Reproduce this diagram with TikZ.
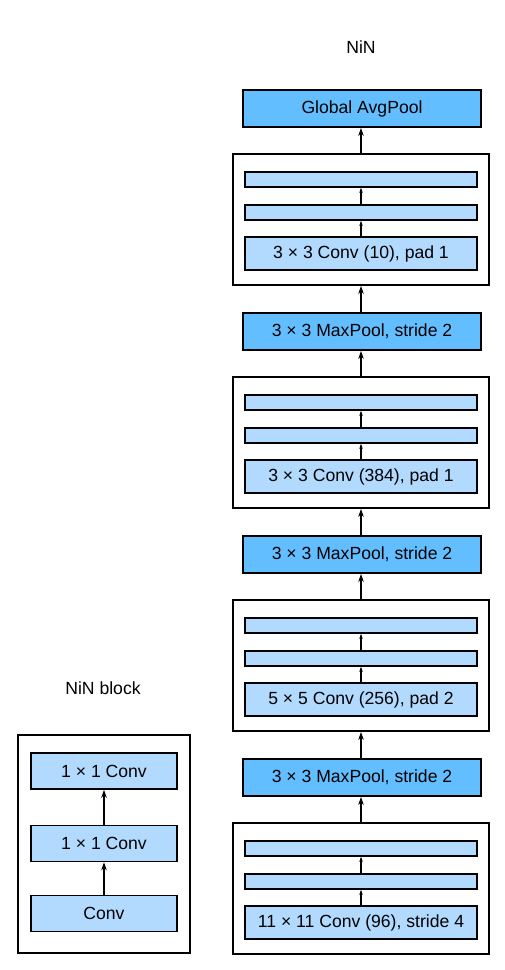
\documentclass[tikz,border=0pt]{standalone}
\usepackage{fontspec}
\setmainfont{Liberation Sans}
\usetikzlibrary{arrows.meta}
\definecolor{poolblue}{RGB}{99,190,255}
\definecolor{convblue}{RGB}{178,218,255}
\tikzset{
  poolbox/.style={draw=black, line width=1.8pt, fill=poolblue, minimum width=238pt, minimum height=37pt, inner sep=0pt, font=\fontsize{17.6}{20}\selectfont},
  convbox/.style={draw=black, line width=1.6pt, fill=convblue, minimum width=232pt, minimum height=33pt, inner sep=0pt, font=\fontsize{17.6}{20}\selectfont},
  barbox/.style={draw=black, line width=1.6pt, fill=convblue, minimum width=232pt, minimum height=15pt, inner sep=0pt},
  outerbox/.style={draw=black, line width=1.8pt, fill=white, minimum width=256pt, minimum height=131pt, inner sep=0pt},
  smallbox/.style={draw=black, line width=1.6pt, fill=convblue, minimum width=146pt, minimum height=36pt, inner sep=0pt, font=\fontsize{17.6}{20}\selectfont},
  bigarrow/.style={line width=1.6pt, -{Stealth[length=8pt,width=5.5pt]}},
  thinarrow/.style={line width=1.4pt, -{Stealth[length=5pt,width=3.5pt]}},
  titletext/.style={font=\fontsize{17.6}{20}\selectfont},
}
\begin{document}
\begin{tikzpicture}[x=1pt,y=-1pt]
\useasboundingbox (0,0) rectangle (504,970);
% titles
\node[titletext] (tnin) at (361,47) {NiN};
\node[titletext] (tblock) at (103,688) {NiN block};
% right column
\node[poolbox] (avg) at (362,108.5) {Global AvgPool};
\foreach \i/\T/\lab in {1/154/{3 × 3 Conv (10), pad 1},2/377/{3 × 3 Conv (384), pad 1},3/600/{5 × 5 Conv (256), pad 2},4/823/{11 × 11 Conv (96), stride 4}}{
  \node[outerbox] (o\i) at (361,\T+65.5) {};
  \node[barbox] (ba\i) at (361,\T+25.5) {};
  \node[barbox] (bb\i) at (361,\T+58.5) {};
  \node[convbox] (c\i) at (361,\T+99.5) {\lab};
  \draw[thinarrow] (c\i.north) -- (bb\i.south);
  \draw[thinarrow] (bb\i.north) -- (ba\i.south);
}
\foreach \i/\T in {1/377,2/600,3/823}{
  \node[poolbox] (p\i) at (362,\T-45.5) {3 × 3 MaxPool, stride 2};
}
\draw[bigarrow] (o1.north) -- (o1.north |- avg.south);
\draw[bigarrow] (o2.north) -- (o2.north |- p1.south);
\draw[bigarrow] (o2.north |- p1.north) -- (o1.south);
\draw[bigarrow] (o3.north) -- (o3.north |- p2.south);
\draw[bigarrow] (o3.north |- p2.north) -- (o2.south);
\draw[bigarrow] (o4.north) -- (o4.north |- p3.south);
\draw[bigarrow] (o4.north |- p3.north) -- (o3.south);
% left block
\node[outerbox, minimum width=172pt, minimum height=218pt] (lo) at (104,844) {};
\node[smallbox] (l1) at (104,771) {1 × 1 Conv};
\node[smallbox] (l2) at (104,843.5) {1 × 1 Conv};
\node[smallbox] (l3) at (104,913.5) {Conv};
\draw[bigarrow] (l3.north) -- (l2.south);
\draw[bigarrow] (l2.north) -- (l1.south);
\end{tikzpicture}
\end{document}
